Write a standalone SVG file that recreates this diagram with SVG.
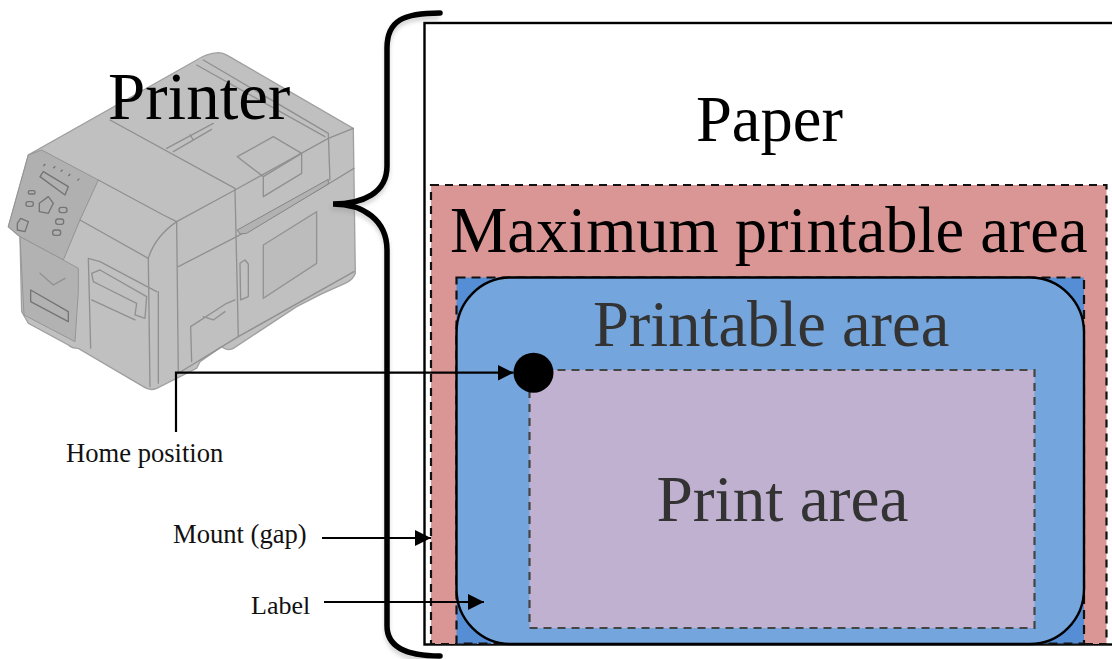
<svg xmlns="http://www.w3.org/2000/svg" width="1112" height="659" viewBox="0 0 1112 659">
<style>
text{font-family:"Liberation Serif","Times New Roman",serif}
.big{font-size:64.5px;fill:#000}
.grey{font-size:64.5px;fill:#333}
.small{font-size:26.6px;fill:#111}
.wire{fill:none;stroke:#000;stroke-width:2.2}
.p{fill:none;stroke:#909090;stroke-width:4;stroke-linejoin:round;stroke-linecap:round}
.pd{fill:none;stroke:#747474;stroke-width:4;stroke-linejoin:round}
</style>
<defs>
<marker id="arrow" markerUnits="userSpaceOnUse" markerWidth="17" markerHeight="17" refX="16" refY="8.5" orient="auto"><path d="M0,0.5 L16,8.5 L0,16.5 Z" fill="#000"/></marker>
<filter id="soft" x="-5%" y="-5%" width="110%" height="110%"><feGaussianBlur stdDeviation="0.6"/></filter>
<filter id="shadow" x="-30%" y="-5%" width="160%" height="110%"><feGaussianBlur stdDeviation="2"/></filter>
</defs>
<rect width="1112" height="659" fill="#fff"/>

<g id="printer" transform="translate(0,40) scale(0.3333)" filter="url(#soft)">
<path d="M655,38 Q670,38 682,46 L1060,265 L1066,700 Q1060,718 1040,728 L965,762 L890,800 L700,925 Q680,935 665,920 L600,965 L590,985 L470,1045 Q450,1054 430,1040 L235,925 Q215,925 205,915 L85,850 L65,815 L60,590 L25,560 L85,345 L590,60 Q620,40 655,38 Z" fill="#c0c0c0" stroke="#a0a0a0" stroke-width="4"/>
<path d="M85,345 L125,330 L295,420 L240,540 L190,660 L60,590 L25,560 Z" fill="#b0b0b0" stroke="#949494" stroke-width="3"/>
<path d="M60,590 L190,660 L235,685 L235,755 L225,905 L72,825 Z" fill="#b2b2b2" stroke="#969696" stroke-width="3"/>
<path class="p" d="M330,240 L705,445 L715,890"/>
<path class="p" d="M295,420 L490,525 L530,545 L535,1000 L715,890 L1062,695"/>
<path class="p" d="M530,545 L705,450 L985,295 L1060,265"/>
<path class="p" d="M535,680 L710,590 L985,432 L1062,385"/>
<path class="p" d="M610,60 L985,280 L990,420"/>
<path class="p" d="M590,75 L975,290"/>
<path class="p" d="M500,325 L640,250 M520,335 L635,268 M570,285 L580,300"/>
<path class="p" d="M712,350 L820,290 L905,340 L790,410 Z M790,410 L790,470 L905,400 L905,340"/>
<path d="M790,615 L950,515 L950,670 L790,775 Z" fill="#bcbcbc" stroke="#939393" stroke-width="4"/>
<path d="M712,570 L730,560 L985,418 L985,432 L740,580 L720,582 Z" fill="#b2b2b2" stroke="#858585" stroke-width="3"/>
<path class="p" d="M720,670 L735,660 L745,672 L745,770 L722,780 Z"/>
<path class="p" d="M575,965 L572,860 L680,790 L705,780 M610,830 L640,840 L675,815"/>
<path class="p" d="M240,540 L445,655 L450,1040 M445,655 Q465,590 530,545 M475,755 L475,1030"/>
<path class="p" d="M265,655 L272,925 M265,655 L300,665 L470,755 M275,700 L300,690 L440,770 L435,835 L405,825 L410,790 L300,735 L280,725 Z M275,780 L405,840"/>
<path class="p" d="M120,700 L160,735 L195,715"/>
<path class="pd" stroke-width="3" d="M92,750 L205,815 L205,845 L92,785 Z"/>
<path class="pd" d="M120,410 L130,395 L205,440 L195,465 Z"/>
<path class="pd" d="M118,490 L145,470 L160,490 L145,520 L118,515 Z"/>
<path class="pd" d="M52,550 L62,535 L85,545 L75,575 L52,570 Z"/>
<g class="pd" stroke-width="3"><rect x="78" y="485" width="22" height="14" rx="6"/><rect x="85" y="452" width="20" height="10" rx="4"/><rect x="177" y="502" width="24" height="16" rx="7"/><rect x="167" y="537" width="24" height="16" rx="7"/><rect x="158" y="570" width="24" height="16" rx="7"/></g>
<path class="pd" d="M130,378 l6,-6 M160,385 l6,-6 M182,395 l6,-6 M205,408 l6,-6 M232,422 l6,-6"/>
</g>

<g id="paper"><rect x="424.5" y="23" width="700" height="621.5" fill="#fff" stroke="#000" stroke-width="2.4"/></g>
<g id="maximum-printable-area"><rect x="431" y="185" width="675.5" height="459" fill="#da9694" stroke="#111" stroke-width="2.2" stroke-dasharray="8 6"/></g>
<g id="printable-corners"><rect x="456.5" y="277.5" width="627.5" height="366" fill="#558ed5" stroke="#111" stroke-width="2.2" stroke-dasharray="9 6"/></g>
<g id="label"><rect x="456.5" y="277.5" width="627.5" height="366.5" rx="54" ry="55" fill="#74a5dd" stroke="#000" stroke-width="2.4"/></g>
<g id="print-area"><rect x="529.5" y="370" width="505" height="258" fill="#c0b1d0" stroke="#444" stroke-width="2.2" stroke-dasharray="8 6"/></g>
<g id="home-position-dot"><circle cx="533.5" cy="372.7" r="20" fill="#000"/></g>

<g id="brace">
<path d="M441,15 C405,15 389,22 389,50 L389,168 C389,195 365,206 333,206 C365,206 389,222 389,252 L389,628 C389,650 410,658 441,658" fill="none" stroke="#999" stroke-width="5" filter="url(#shadow)" opacity=".45" transform="translate(-2,2)"/>
<path d="M440,13 C404,13 387,20 387,48 L387,166 C387,193 363,204 333,204 C363,204 387,220 387,250 L387,626 C387,648 408,656 440,656" fill="none" stroke="#000" stroke-width="5.5" stroke-linecap="round"/>
</g>

<g id="connectors">
<path class="wire" d="M176,432 L176,372.7 L513.5,372.7" marker-end="url(#arrow)"/>
<path class="wire" d="M322,538 L431,538" marker-end="url(#arrow)"/>
<path class="wire" d="M324,602 L484,602" marker-end="url(#arrow)"/>
</g>

<g id="labels">
<text class="big" x="108" y="119" style="font-size:67px">Printer</text>
<text class="big" x="696" y="141">Paper</text>
<text class="big" x="450" y="251.500">Maximum printable area</text>
<text class="grey" x="593" y="346">Printable area</text>
<text class="grey" x="656.500" y="521" style="font-size:65.300px">Print area</text>
<text class="small" x="66" y="462">Home position</text>
<text class="small" x="173" y="543">Mount (gap)</text>
<text class="small" x="251" y="614" style="font-size:26px">Label</text>
</g>
</svg>
